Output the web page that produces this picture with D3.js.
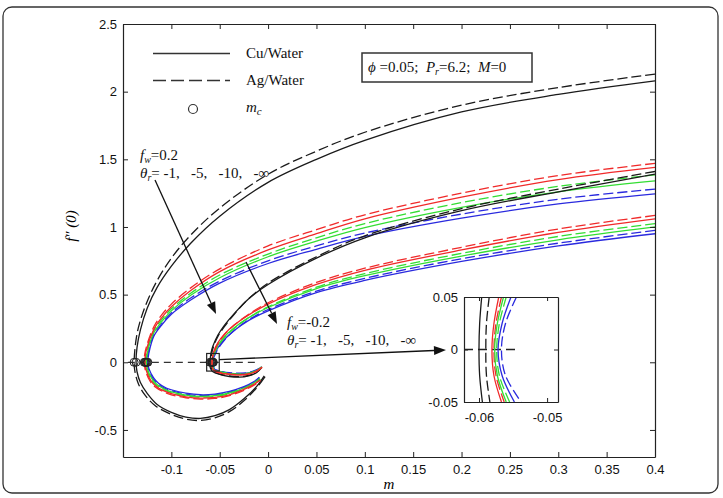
<!DOCTYPE html>
<html><head><meta charset="utf-8">
<script src="https://cdn.jsdelivr.net/npm/d3@7"></script>
<style>body{margin:0;background:#fff;}svg{display:block;}</style>
</head><body>
<script>
// ---------------- DATA ----------------
// axis ticks
const xTicks = [-0.1,-0.05,0,0.05,0.1,0.15,0.2,0.25,0.3,0.35,0.4];
const xTickLabels = ["-0.1","-0.05","0","0.05","0.1","0.15","0.2","0.25","0.3","0.35","0.4"];
const yTicks = [-0.5,0,0.5,1,1.5,2,2.5];
const yTickLabels = ["-0.5","0","0.5","1","1.5","2","2.5"];
const insetXTicks = [-0.06,-0.05];
const insetXTickLabels = ["-0.06","-0.05"];
const insetYTicks = [-0.05,0,0.05];
const insetYTickLabels = ["-0.05","0","0.05"];

// f_w = 0.2 family  [m, f''(0)]  (upper branch -> turning point -> lower branch)
const A_black_cu = [[0.4,2.08],[0.3,1.98],[0.2,1.85],[0.1,1.64],[0.05,1.50],[0,1.33],[-0.05,1.08],[-0.08,0.88],[-0.1,0.71],[-0.115,0.55],[-0.125,0.40],[-0.132,0.24],[-0.1355,0.11],[-0.1365,0],[-0.1355,-0.07],[-0.132,-0.15],[-0.125,-0.23],[-0.115,-0.31],[-0.1,-0.37],[-0.085,-0.405],[-0.07,-0.415],[-0.055,-0.395],[-0.04,-0.35],[-0.025,-0.27],[-0.012,-0.18],[-0.004,-0.10]];
const A_black_ag = [[0.4,2.13],[0.3,2.03],[0.2,1.90],[0.1,1.70],[0.05,1.56],[0,1.39],[-0.05,1.14],[-0.08,0.94],[-0.1,0.77],[-0.115,0.60],[-0.125,0.45],[-0.132,0.31],[-0.136,0.19],[-0.1385,0],[-0.1375,-0.075],[-0.134,-0.16],[-0.127,-0.245],[-0.116,-0.325],[-0.1,-0.385],[-0.085,-0.42],[-0.07,-0.43],[-0.055,-0.41],[-0.04,-0.365],[-0.025,-0.285],[-0.012,-0.19],[-0.003,-0.105]];
const A_red_ag = [[0.4,1.47],[0.3,1.38],[0.2,1.25],[0.1,1.09],[0.05,0.98],[0,0.86],[-0.05,0.69],[-0.08,0.55],[-0.1,0.43],[-0.11,0.35],[-0.118,0.265],[-0.127,0.08],[-0.128,0],[-0.127,-0.055],[-0.122,-0.14],[-0.117,-0.18],[-0.109,-0.215],[-0.1,-0.24],[-0.085,-0.262],[-0.07,-0.272],[-0.055,-0.267],[-0.04,-0.247],[-0.025,-0.207],[-0.015,-0.172],[-0.008,-0.137]];
const A_red_cu = [[0.4,1.44],[0.3,1.35],[0.2,1.22],[0.1,1.06],[0.05,0.95],[0,0.83],[-0.05,0.67],[-0.08,0.53],[-0.1,0.41],[-0.11,0.33],[-0.118,0.245],[-0.1262,0.08],[-0.1272,0],[-0.1262,-0.055],[-0.1212,-0.135],[-0.1162,-0.175],[-0.1082,-0.21],[-0.1,-0.232],[-0.085,-0.255],[-0.07,-0.265],[-0.055,-0.26],[-0.04,-0.24],[-0.025,-0.2],[-0.015,-0.165],[-0.008,-0.13]];
const A_green_ag = [[0.4,1.385],[0.3,1.30],[0.2,1.18],[0.1,1.025],[0.05,0.92],[0,0.80],[-0.05,0.645],[-0.08,0.51],[-0.1,0.395],[-0.11,0.315],[-0.118,0.235],[-0.1255,0.075],[-0.1265,0],[-0.1255,-0.052],[-0.1205,-0.13],[-0.1155,-0.17],[-0.1075,-0.205],[-0.1,-0.225],[-0.085,-0.248],[-0.07,-0.258],[-0.055,-0.253],[-0.04,-0.233],[-0.025,-0.195],[-0.015,-0.16],[-0.008,-0.125]];
const A_green_cu = [[0.4,1.34],[0.3,1.26],[0.2,1.145],[0.1,0.995],[0.05,0.895],[0,0.78],[-0.05,0.625],[-0.08,0.495],[-0.1,0.38],[-0.11,0.30],[-0.118,0.22],[-0.1248,0.07],[-0.1258,0],[-0.1248,-0.05],[-0.1198,-0.125],[-0.1148,-0.165],[-0.1068,-0.2],[-0.1,-0.218],[-0.085,-0.242],[-0.07,-0.252],[-0.055,-0.247],[-0.04,-0.227],[-0.025,-0.19],[-0.015,-0.155],[-0.0085,-0.12]];
const A_blue_ag = [[0.4,1.28],[0.3,1.205],[0.2,1.095],[0.1,0.955],[0.05,0.86],[0,0.75],[-0.05,0.60],[-0.08,0.475],[-0.1,0.365],[-0.11,0.285],[-0.118,0.205],[-0.124,0.07],[-0.125,0],[-0.124,-0.048],[-0.119,-0.12],[-0.114,-0.16],[-0.106,-0.195],[-0.1,-0.21],[-0.085,-0.235],[-0.07,-0.246],[-0.055,-0.241],[-0.04,-0.221],[-0.025,-0.185],[-0.015,-0.15],[-0.009,-0.115]];
const A_blue_cu = [[0.4,1.245],[0.3,1.17],[0.2,1.065],[0.1,0.93],[0.05,0.835],[0,0.73],[-0.05,0.585],[-0.08,0.46],[-0.1,0.355],[-0.11,0.275],[-0.118,0.195],[-0.1233,0.065],[-0.1243,0],[-0.1233,-0.046],[-0.1183,-0.115],[-0.1133,-0.155],[-0.1053,-0.19],[-0.1,-0.203],[-0.085,-0.228],[-0.07,-0.24],[-0.055,-0.235],[-0.04,-0.215],[-0.025,-0.18],[-0.015,-0.145],[-0.009,-0.11]];

// f_w = -0.2 family
const B_black_cu = [[0.4,1.39],[0.3,1.26],[0.2,1.12],[0.1,0.92],[0.05,0.77],[0,0.575],[-0.02,0.47],[-0.035,0.36],[-0.045,0.275],[-0.052,0.20],[-0.057,0.12],[-0.059,0.07],[-0.06,0],[-0.0596,-0.045],[-0.057,-0.07],[-0.05,-0.09],[-0.04,-0.105],[-0.03,-0.11],[-0.02,-0.1],[-0.012,-0.077],[-0.0065,-0.04]];
const B_black_ag = [[0.4,1.41],[0.3,1.28],[0.2,1.135],[0.1,0.935],[0.05,0.78],[0,0.585],[-0.02,0.47],[-0.035,0.355],[-0.045,0.265],[-0.052,0.19],[-0.056,0.125],[-0.058,0.075],[-0.059,0],[-0.0586,-0.045],[-0.056,-0.068],[-0.05,-0.087],[-0.04,-0.101],[-0.03,-0.106],[-0.02,-0.097],[-0.012,-0.074],[-0.007,-0.04]];
const B_red_ag = [[0.4,1.085],[0.3,0.985],[0.2,0.85],[0.1,0.695],[0.05,0.59],[0,0.44],[-0.02,0.355],[-0.035,0.275],[-0.045,0.205],[-0.052,0.135],[-0.0555,0.08],[-0.0572,0.04],[-0.0578,0],[-0.0569,-0.05],[-0.0545,-0.064],[-0.05,-0.075],[-0.04,-0.088],[-0.03,-0.092],[-0.02,-0.085],[-0.012,-0.065],[-0.0065,-0.038]];
const B_red_cu = [[0.4,1.06],[0.3,0.96],[0.2,0.83],[0.1,0.68],[0.05,0.575],[0,0.43],[-0.02,0.35],[-0.035,0.275],[-0.045,0.21],[-0.052,0.143],[-0.056,0.083],[-0.0575,0.04],[-0.0581,0],[-0.0572,-0.05],[-0.055,-0.065],[-0.05,-0.078],[-0.04,-0.09],[-0.03,-0.094],[-0.02,-0.087],[-0.012,-0.067],[-0.006,-0.035]];
const B_green_ag = [[0.4,1.025],[0.3,0.93],[0.2,0.805],[0.1,0.655],[0.05,0.555],[0,0.41],[-0.02,0.33],[-0.035,0.25],[-0.045,0.183],[-0.052,0.117],[-0.055,0.075],[-0.0568,0.04],[-0.0574,0],[-0.0562,-0.05],[-0.054,-0.061],[-0.05,-0.07],[-0.04,-0.083],[-0.03,-0.087],[-0.02,-0.08],[-0.012,-0.06],[-0.0065,-0.034]];
const B_green_cu = [[0.4,1.0],[0.3,0.905],[0.2,0.785],[0.1,0.64],[0.05,0.545],[0,0.405],[-0.02,0.33],[-0.035,0.255],[-0.045,0.19],[-0.052,0.125],[-0.0555,0.075],[-0.0571,0.04],[-0.0577,0],[-0.0567,-0.05],[-0.0545,-0.062],[-0.05,-0.072],[-0.04,-0.085],[-0.03,-0.089],[-0.02,-0.082],[-0.012,-0.062],[-0.0065,-0.036]];
const B_blue_ag = [[0.4,0.975],[0.3,0.88],[0.2,0.765],[0.1,0.62],[0.05,0.525],[0,0.39],[-0.02,0.315],[-0.035,0.235],[-0.045,0.165],[-0.052,0.097],[-0.0542,0.065],[-0.0559,0.04],[-0.0566,0],[-0.0554,-0.05],[-0.053,-0.058],[-0.05,-0.065],[-0.04,-0.077],[-0.03,-0.081],[-0.02,-0.075],[-0.012,-0.056],[-0.0065,-0.031]];
const B_blue_cu = [[0.4,0.95],[0.3,0.86],[0.2,0.745],[0.1,0.605],[0.05,0.515],[0,0.38],[-0.02,0.31],[-0.035,0.235],[-0.045,0.17],[-0.052,0.107],[-0.0548,0.07],[-0.0566,0.04],[-0.0572,0],[-0.0559,-0.05],[-0.0535,-0.06],[-0.05,-0.068],[-0.04,-0.08],[-0.03,-0.084],[-0.02,-0.078],[-0.012,-0.058],[-0.0065,-0.033]];

// inset (zoom on f_w=-0.2 turning points)
const I_black_cu = [[-0.0596,0.05],[-0.0599,0.025],[-0.06,0],[-0.0599,-0.025],[-0.0595,-0.05]];
const I_black_ag = [[-0.0585,0.05],[-0.0589,0.025],[-0.059,0],[-0.0589,-0.025],[-0.0584,-0.05]];
const I_red_cu = [[-0.0571,0.05],[-0.0578,0.025],[-0.0581,0],[-0.0578,-0.025],[-0.0567,-0.05]];
const I_red_ag = [[-0.0567,0.05],[-0.0575,0.025],[-0.0578,0],[-0.0575,-0.025],[-0.0563,-0.05]];
const I_green_cu = [[-0.0564,0.05],[-0.0573,0.025],[-0.0577,0],[-0.0573,-0.025],[-0.056,-0.05]];
const I_green_ag = [[-0.056,0.05],[-0.057,0.025],[-0.0574,0],[-0.057,-0.025],[-0.0555,-0.05]];
const I_blue_cu = [[-0.0553,0.05],[-0.0566,0.025],[-0.0572,0],[-0.0566,-0.025],[-0.0548,-0.05]];
const I_blue_ag = [[-0.0545,0.05],[-0.0561,0.025],[-0.0567,0],[-0.0561,-0.025],[-0.0538,-0.05]];

// ---------------- DRAWING ----------------
const W = 723, H = 498;
const P = {l:123, r:655, t:24, b:457};
const RED = "#f02a2a", GREEN = "#33dd33", BLUE = "#2a2ade", BLACK = "#1a1a1a";
const DASH = "10,4";

const x = d3.scaleLinear().domain([-0.15,0.4]).range([P.l,P.r]);
const y = d3.scaleLinear().domain([-0.7,2.5]).range([P.b,P.t]);

const svg = d3.select("body").append("svg").attr("width",W).attr("height",H)
  .style("font-family","'Liberation Sans', Arial, sans-serif");
svg.append("rect").attr("width",W).attr("height",H).attr("fill","#fff");
svg.append("rect").attr("x",3).attr("y",7).attr("width",715).attr("height",486).attr("rx",9)
  .attr("fill","none").attr("stroke","#333").attr("stroke-width",1.3);

const defs = svg.append("defs");
defs.append("clipPath").attr("id","clipMain").append("rect")
  .attr("x",P.l).attr("y",P.t).attr("width",P.r-P.l).attr("height",P.b-P.t);

const mainCurves = [
  {d:A_black_cu,c:BLACK,dash:null},{d:A_black_ag,c:BLACK,dash:DASH},
  {d:A_blue_cu,c:BLUE,dash:null},{d:A_blue_ag,c:BLUE,dash:DASH},
  {d:A_green_cu,c:GREEN,dash:null},{d:A_green_ag,c:GREEN,dash:DASH},
  {d:A_red_cu,c:RED,dash:null},{d:A_red_ag,c:RED,dash:DASH},
  {d:B_black_cu,c:BLACK,dash:null},{d:B_black_ag,c:BLACK,dash:DASH},
  {d:B_blue_cu,c:BLUE,dash:null},{d:B_blue_ag,c:BLUE,dash:DASH},
  {d:B_green_cu,c:GREEN,dash:null},{d:B_green_ag,c:GREEN,dash:DASH},
  {d:B_red_cu,c:RED,dash:null},{d:B_red_ag,c:RED,dash:DASH}
];

const line = d3.line().x(d=>x(d[0])).y(d=>y(d[1])).curve(d3.curveCatmullRom.alpha(0.5));
const gMain = svg.append("g").attr("clip-path","url(#clipMain)");

// y = 0 dashed reference line
gMain.append("line").attr("x1",x(-0.145)).attr("x2",x(-0.011)).attr("y1",y(0)).attr("y2",y(0))
  .attr("stroke","#333").attr("stroke-width",1.2).attr("stroke-dasharray","7,5");

gMain.selectAll("path.curve").data(mainCurves).join("path").attr("class","curve")
  .attr("d",c=>line(c.d)).attr("fill","none").attr("stroke",c=>c.c)
  .attr("stroke-width",1.3).attr("stroke-dasharray",c=>c.dash);

// m_c markers at turning points
const turning = mainCurves.map(c=>c.d.find(p=>p[1]===0));
gMain.selectAll("circle.mc").data(turning).join("circle").attr("class","mc")
  .attr("cx",d=>x(d[0])).attr("cy",d=>y(d[1])).attr("r",4)
  .attr("fill","none").attr("stroke","#222").attr("stroke-width",1);

// small square around f_w=-0.2 turning points
svg.append("rect").attr("x",x(-0.0635)).attr("y",y(0.065))
  .attr("width",x(-0.0505)-x(-0.0635)).attr("height",y(-0.065)-y(0.065))
  .attr("fill","none").attr("stroke","#222").attr("stroke-width",1.2);

// axes (MATLAB style: inward ticks on all four sides)
function styleAxis(g){ g.selectAll("path.domain").attr("stroke","#222").attr("stroke-width",1.2);
  g.selectAll(".tick line").attr("stroke","#222");
  g.selectAll("text").attr("font-size",13).attr("fill","#111").attr("font-family","'Liberation Sans', Arial, sans-serif"); }
svg.append("g").attr("transform",`translate(0,${P.b})`)
  .call(d3.axisBottom(x).tickValues(xTicks).tickFormat((d,i)=>xTickLabels[i]).tickSize(-5).tickSizeOuter(0).tickPadding(8)).call(styleAxis);
svg.append("g").attr("transform",`translate(0,${P.t})`)
  .call(d3.axisTop(x).tickValues(xTicks).tickFormat("").tickSize(-5).tickSizeOuter(0)).call(styleAxis);
svg.append("g").attr("transform",`translate(${P.l},0)`)
  .call(d3.axisLeft(y).tickValues(yTicks).tickFormat((d,i)=>yTickLabels[i]).tickSize(-5).tickSizeOuter(0).tickPadding(6)).call(styleAxis);
svg.append("g").attr("transform",`translate(${P.r},0)`)
  .call(d3.axisRight(y).tickValues(yTicks).tickFormat("").tickSize(-5).tickSizeOuter(0)).call(styleAxis);

// axis titles
const serif = "'Liberation Serif','Times New Roman',serif";
svg.append("text").attr("x",(P.l+P.r)/2).attr("y",489).attr("text-anchor","middle")
  .attr("font-family",serif).attr("font-style","italic").attr("font-size",15).text("m");
svg.append("text").attr("transform","translate(76,226) rotate(-90)").attr("text-anchor","middle")
  .attr("font-family",serif).attr("font-style","italic").attr("font-size",15).text("f\u2033 (0)");

// legend
const lg = svg.append("g").attr("font-family",serif).attr("font-size",15).attr("fill","#111");
lg.append("line").attr("x1",153).attr("x2",230).attr("y1",53.5).attr("y2",53.5).attr("stroke","#333").attr("stroke-width",1.3);
lg.append("line").attr("x1",153).attr("x2",230).attr("y1",80.5).attr("y2",80.5).attr("stroke","#333").attr("stroke-width",1.3).attr("stroke-dasharray","13,5");
lg.append("circle").attr("cx",193).attr("cy",109).attr("r",4.5).attr("fill","none").attr("stroke","#333").attr("stroke-width",1.2);
lg.append("text").attr("x",246).attr("y",58).text("Cu/Water");
lg.append("text").attr("x",246).attr("y",85).text("Ag/Water");
const mcT = lg.append("text").attr("x",246).attr("y",112).attr("font-style","italic");
mcT.append("tspan").text("m");
mcT.append("tspan").attr("font-size",11).attr("dy",3).text("c");

// parameter box
svg.append("rect").attr("x",362).attr("y",53).attr("width",170).attr("height",29)
  .attr("fill","none").attr("stroke","#333").attr("stroke-width",1.5);
const pt = svg.append("text").attr("x",368).attr("y",72).attr("font-family",serif).attr("font-size",15)
  .attr("fill","#111").style("white-space","pre");
pt.append("tspan").attr("font-style","italic").text("\u03d5");
pt.append("tspan").text(" =0.05;  ");
pt.append("tspan").attr("font-style","italic").text("P");
pt.append("tspan").attr("font-style","italic").attr("font-size",10).attr("dy",3).text("r");
pt.append("tspan").attr("dy",-3).text("=6.2;  ");
pt.append("tspan").attr("font-style","italic").text("M");
pt.append("tspan").text("=0");

// annotations
function annot(x0, y0, fw){
  const t1 = svg.append("text").attr("x",x0).attr("y",y0).attr("font-family",serif).attr("font-size",15).attr("fill","#111");
  t1.append("tspan").attr("font-style","italic").text("f");
  t1.append("tspan").attr("font-style","italic").attr("font-size",10).attr("dy",3).text("w");
  t1.append("tspan").attr("dy",-3).text("=" + fw);
  const t2 = svg.append("text").attr("x",x0).attr("y",y0+18).attr("font-family",serif).attr("font-size",15)
    .attr("fill","#111").style("white-space","pre");
  t2.append("tspan").attr("font-style","italic").text("\u03b8");
  t2.append("tspan").attr("font-style","italic").attr("font-size",10).attr("dy",3).text("r");
  t2.append("tspan").attr("dy",-3).text("= -1,   -5,   -10,   -\u221e");
}
annot(140,160,"0.2");
annot(287,327,"-0.2");

function arrow(x1,y1,x2,y2){
  const a = Math.atan2(y2-y1,x2-x1), L = 12, Wd = 4.5;
  const bx = x2 - L*Math.cos(a), by = y2 - L*Math.sin(a);
  svg.append("line").attr("x1",x1).attr("y1",y1).attr("x2",bx).attr("y2",by).attr("stroke","#111").attr("stroke-width",1.3);
  svg.append("path").attr("d",`M${x2},${y2}L${bx+Wd*Math.sin(a)},${by-Wd*Math.cos(a)}L${bx-Wd*Math.sin(a)},${by+Wd*Math.cos(a)}Z`).attr("fill","#111");
}
arrow(155,180,216,314);
arrow(246,262,277,324);
arrow(x(-0.0505),y(0.02),446,350);

// ---------------- INSET ----------------
const ix = d3.scaleLinear().domain([-0.0622,-0.0484]).range([464,558]);
const iy = d3.scaleLinear().domain([-0.05,0.05]).range([402,297]);
defs.append("clipPath").attr("id","clipInset").append("rect")
  .attr("x",464).attr("y",297).attr("width",94).attr("height",105);
svg.append("rect").attr("x",464).attr("y",297).attr("width",94).attr("height",105).attr("fill","#fff");
const insetCurves = [
  {d:I_black_cu,c:BLACK,dash:null},{d:I_black_ag,c:BLACK,dash:DASH},
  {d:I_red_cu,c:RED,dash:null},{d:I_red_ag,c:RED,dash:DASH},
  {d:I_green_cu,c:GREEN,dash:null},{d:I_green_ag,c:GREEN,dash:DASH},
  {d:I_blue_cu,c:BLUE,dash:null},{d:I_blue_ag,c:BLUE,dash:DASH}
];
const iline = d3.line().x(d=>ix(d[0])).y(d=>iy(d[1])).curve(d3.curveCatmullRom.alpha(0.5));
const gI = svg.append("g").attr("clip-path","url(#clipInset)");
gI.append("line").attr("x1",ix(-0.0622)).attr("x2",ix(-0.0543)).attr("y1",iy(0)).attr("y2",iy(0))
  .attr("stroke","#222").attr("stroke-width",1.3).attr("stroke-dasharray","9,5");
gI.selectAll("path").data(insetCurves).join("path").attr("d",c=>iline(c.d))
  .attr("fill","none").attr("stroke",c=>c.c).attr("stroke-width",1.3).attr("stroke-dasharray",c=>c.dash);

svg.append("g").attr("transform","translate(0,402)")
  .call(d3.axisBottom(ix).tickValues(insetXTicks).tickFormat((d,i)=>insetXTickLabels[i]).tickSize(-4).tickSizeOuter(0).tickPadding(11)).call(styleAxis);
svg.append("g").attr("transform","translate(0,297)")
  .call(d3.axisTop(ix).tickValues(insetXTicks).tickFormat("").tickSize(-4).tickSizeOuter(0)).call(styleAxis);
svg.append("g").attr("transform","translate(464,0)")
  .call(d3.axisLeft(iy).tickValues(insetYTicks).tickFormat((d,i)=>insetYTickLabels[i]).tickSize(-4).tickSizeOuter(0).tickPadding(6)).call(styleAxis);
svg.append("g").attr("transform","translate(558,0)")
  .call(d3.axisRight(iy).tickValues(insetYTicks).tickFormat("").tickSize(-4).tickSizeOuter(0)).call(styleAxis);
</script>
</body></html>
